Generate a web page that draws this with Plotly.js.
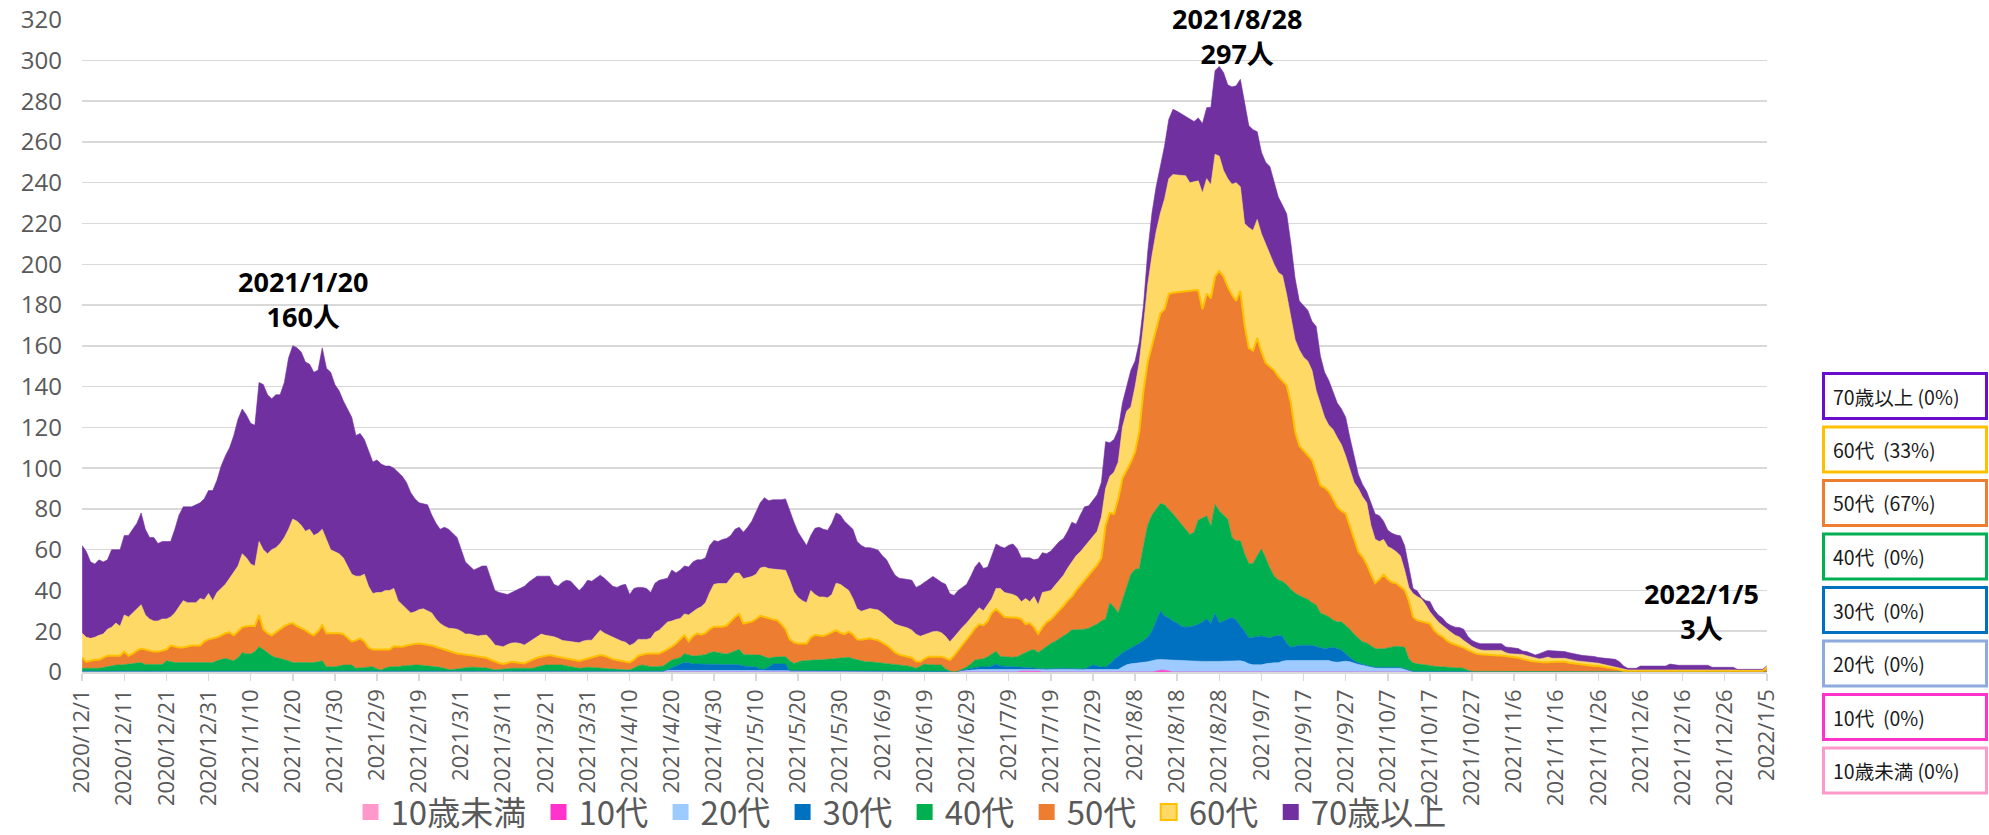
<!DOCTYPE html>
<html><head><meta charset="utf-8">
<script src="https://cdn.plot.ly/plotly-3.0.1.min.js"></script>
<style>html,body{margin:0;padding:0;background:#fff}#chart{width:1989px;height:835px}</style>
</head><body><div id="chart"></div>
<script>
// ---- categories / labels ----
const ageGroups = ['10歳未満','10代','20代','30代','40代','50代','60代','70歳以上'];
const fillColors = ['#FF99CC','#FF33CC','#9DCBFF','#0070C0','#00B050','#ED7D31','#FFD966','#7030A0'];
const boxColors  = ['#FF99CC','#FF33CC','#8FAADC','#0070C0','#00B050','#ED7D31','#FFC000','#6A0DCC'];
const tickLabels = ['2020/12/1','2020/12/11','2020/12/21','2020/12/31','2021/1/10','2021/1/20','2021/1/30','2021/2/9','2021/2/19','2021/3/1','2021/3/11','2021/3/21','2021/3/31','2021/4/10','2021/4/20','2021/4/30','2021/5/10','2021/5/20','2021/5/30','2021/6/9','2021/6/19','2021/6/29','2021/7/9','2021/7/19','2021/7/29','2021/8/8','2021/8/18','2021/8/28','2021/9/7','2021/9/17','2021/9/27','2021/10/7','2021/10/17','2021/10/27','2021/11/6','2021/11/16','2021/11/26','2021/12/6','2021/12/16','2021/12/26','2022/1/5'];
const calloutLabels = ['2021/1/20','2021/8/28','2022/1/5'];
const nDays = 401; // 2020/12/1 .. 2022/1/5

// ---- stacked boundaries (daily, cumulative from the bottom) ----
// top of 70歳以上 (= daily total)
const cum70 = [
62,59,54,53,55,54,55,60,60,60,
67,67,70,73,78,70,66,66,63,64,
64,64,70,77,81,81,81,82,83,85,
89,89,94,101,106,110,116,124,129,126,
122,121,142,141,136,134,136,136,142,154,
160,159,157,152,151,147,148,159,149,147,
141,138,133,129,125,116,117,114,108,103,
104,102,101,101,100,98,96,93,88,85,
83,82.5,82,77,73,70,71,70,68,66,
60,54,52,50,51,52,52,46,40,39,
38.5,38,39,40,41,42,44,45.5,47,47,
47,47,43,42,44,45,44.5,42,40,42,
45,44.5,46,47.5,46,44,42,41.5,42.5,43,
38,41,41.5,41.5,41,39,43.5,45,45.5,46,
50,48.6,50,52,51.5,54,55,55,56,62,
64.5,64,65,65.5,67,70,71,68.6,71,74,
78.5,83,85.5,84,84.5,84.5,84.5,84.9,79,73.5,
68.5,65,62,67,70.5,71,70,69.5,73,78,
77,74,72,70,64,62,61,61,60.5,59.7,
57,55,51,47.5,46,45.8,45.4,45,41.5,42.5,
44,45.5,46.9,45.5,44,43,38.5,37.5,40,41.5,
43,47,51.5,54,50.8,51.5,57.5,62.8,61.5,60.8,
62.2,62.8,60.5,56,56,56,55,55.5,58.5,58,
59.3,61.5,64,65.5,69,73.5,72.5,77,81,81.5,
84,87,93,113,112.5,114,118.8,132,140,148,
152.5,162,180,206,225,238,248,258,271,276,
275,273.8,272.4,271,270,271.8,269,276.8,277,295,
297,294,288,287,287.5,290.7,279,268,266,265,
255,250,248,241,233,229,224.7,210,193,182,
180,177.5,172,169.5,155,147,143,137,132,129,
125,115,106,97,92,88.5,83,77.5,76.7,74,
69.5,68,67.2,66.8,62,52,41,39.7,36.5,35,
34.6,30.5,28,26.5,24,22.8,22,21.8,21,17.5,
15.5,14.5,13.9,13.9,13.9,13.9,13.9,13.9,12.3,12,
12,11.5,10.3,10,9.2,8.3,9,9.8,10.6,10.4,
10.3,10.3,10,9.5,9,8.5,8.2,8,7.9,7.6,
7.1,6.9,6.7,6.4,6.2,5,3,1.8,1.8,1.8,
2.9,2.9,2.9,2.9,2.9,2.9,2.9,3.9,3.5,3.3,
3.3,3.3,3.3,3.3,3.3,3.3,3.3,2.3,2.3,2.3,
2.3,2.3,2.3,1.3,1.3,1.3,1.3,1.3,1.3,1.3,
3];
// top of 60代
const cum60 = [
19,17,16.5,17,18,18.6,21,22,24,22.5,
28,27,29,31,33,28,26,25,25,26,
26,27,29,32,35,34,34,34,36,35.5,
38.5,35,39,41,43,46,49,52,58,56,
53,52,64,60,58,60,61,63,66,70,
75,74,72,69,70,67,68,70,65,60,
59,58,56,52,48,47,47,48,42,38.5,
39,39,40,40,41,35,33,31,29,29.5,
30.6,31,30,29,26,23.8,22.5,21.5,21.3,21,
20,18.6,18.6,18,17.6,18,18.1,16,13.2,12.8,
12.4,13.5,14.2,14.3,14,13.2,14.5,15.6,17,18.6,
18,17.6,17.3,16.5,15.5,15.2,14.8,14.6,14.3,15.2,
15.6,15.6,18,20.5,19,18,16.8,16,15.2,14.6,
13,14,16,16,16,16.5,19.5,20.5,22.5,24.5,
25,25.8,26.2,28.5,28,29.5,31,32,34,39,
43,43.4,43.4,43.4,46,48.5,48.5,45.8,46.3,46.8,
48,51,51.5,50.8,50.5,50.2,50,49.9,45,39.3,
36.5,35,34,40,38,36.8,36.8,36.4,38,43.5,
43,41.7,40,36,31,29.8,30.5,31.1,30.8,30.4,
29,27.1,25,23.5,22.8,22.2,21.6,20.5,18.5,17.5,
18.3,19,19.8,20,19.3,17.5,14.8,17,19.8,22,
24,26.5,29,31.5,30,33,36,41,41,39,
38.5,38,37,34.5,36,34.5,37,33,39,39.4,
40,42.5,45,47.5,51,54,57,59,61.5,64.5,
66.5,69,76,90,96,98,103,120,128,130,
140,152,170,190,204,216,225,232,242,244,
243.8,243.6,243.4,240,240.5,240.9,235,242,239,254,
253,246,242,239.3,240,238,220,218,216.6,222,
215,210,205,200,196,194.5,185,173,163,158,
154.4,152.5,148,138,131,125,121,119,115,111.5,
106,99,93,90,86,83,72,65.1,64,65,
61.5,60.5,59,57,50,41.5,38.5,37,35.8,33,
29.5,27,24.5,22.8,21,19.5,18,17.2,15.5,14,
12.5,11.5,10.8,10.6,10.6,10.6,10.6,10.6,9.5,8.9,
8.8,8.7,8.6,8,7.4,6.8,6.4,6.8,7.3,6.7,
6.7,6.7,6.7,6.3,5.8,5.4,5.2,5,4.8,4.6,
4.3,3.8,3.3,2.9,2.5,1.9,1.2,1,1,1,
1,1,1,1,1,1,1,1,1,1,
1,1,1,1,1,1,1,1,1,1,
1,1,1,1,1,1,1,1,1,1,
3];
// top of 50代
const cum50 = [
7,5,5.5,6,6,7,8,8,8,8,
10,8,9,10.5,11.5,11,10.5,10,10,10.5,
11,13,12.5,12,12,12.5,13,13,13,15,
16,16.5,17,18,19,19.5,18,20,22,22.5,
22.7,22.5,28,21,19,18,19.5,21,22.5,23.5,
24,22.5,21.5,20.5,19,18,20,23,19,19,
19,19,18.6,17,15,15.5,16.5,15,12,11,
11,11,11,11,12.6,12.5,12.4,13,13.5,13.8,
14,13.8,13.4,13,12.3,11.5,10.8,10.2,9.6,9.1,
8.8,8.6,8.3,8,7.6,7.3,7,6,5,4.4,
3.9,4.4,5,4.8,4.5,4.2,5.2,6.2,7,7.5,
8,8.3,7.8,7.4,7.2,6.8,6.3,5.8,5.4,6,
6.6,7,7.6,8.3,8,7,6.3,5.9,5.5,5,
4.7,6,8,8.5,9,9.1,9.1,9.1,10,11,
12.4,14,16,18,15,17.5,18.9,18.3,19.2,21,
22.2,22.2,22.2,22.8,25,27,28.4,23.8,24.3,24.7,
26,27.5,27,26.3,25.8,25.4,23.5,21,16,14.5,
14,14,14,17,18.1,17.9,17.7,18.5,19.5,20.5,
19.2,18.6,19.8,18.5,16,15.8,16.2,16.5,16,15.6,
14.4,13.2,11.5,9.6,8.5,8.1,7.7,7,5.2,5,
6.5,7.5,7.5,7.5,7.5,6.8,5.9,8,10.6,13,
15.7,18.5,21.5,23.5,23,25,29,30.9,29,27,
26.8,26.8,26.6,26,23.5,24,22,18.7,22,24.5,
25.8,28,30,32.5,35,37,40,42.5,44.5,47,
50,52.5,56,72,78,77.6,85,95,99,103,
108,118,138,152,160,168,176,178,185.5,186,
186.3,186.5,186.8,187.2,187.2,187.2,178,185.5,183.4,194,
196.7,194,189,185,182,187,170,159,157.7,163.8,
157,151.6,150,148,145,143,140.5,132,118,111,
108.5,106.5,104,98,91.5,90.5,88.5,85,81,79,
77.8,71.7,65,59,56.5,53,48,43.6,45.5,47.8,
45.5,44,43.5,42,40.3,35,27,25.3,24.7,24.3,
23.8,20.5,18.5,17.4,15.5,14.2,13.4,12.7,12,10.8,
10,9,8.7,8.5,8.3,8.2,8.1,8.1,7.8,7.6,
7.4,7,6.4,5.8,5.4,5.1,4.8,4.8,4.8,5,
5,5,5,4.5,4.2,3.9,3.7,3.4,3.2,3,
2.9,2.6,2.3,2,1.8,1.2,0.6,0.6,0.6,0.6,
0.6,0.6,0.6,0.6,0.6,0.6,0.6,0.6,0.6,0.6,
0.6,0.6,0.6,0.6,0.6,0.6,0.6,0.6,0.6,0.6,
0.6,0.6,0.6,0.6,0.6,0.6,0.6,0.6,0.6,0.6,
2];
// top of 40代
const cum40 = [
1.8,1.8,1.8,1.8,1.8,2.2,2.6,3,3.4,3.4,
3.6,3.8,4,4.3,4.6,3.7,3.7,3.7,3.7,3.7,
5.5,5,4.6,4.6,4.6,4.6,4.6,4.6,4.6,4.6,
4.6,4.6,5.5,6,6.7,6,5.5,7,9.5,9,
8.8,10,12.4,11,9.5,8,7,6.7,6,5.5,
4.6,4.6,4.6,4.6,4.6,4.6,5,5.5,2.6,2.6,
2.6,3,3.4,3.4,3.4,1.8,2,2.2,2.4,2.6,
1.5,1,2,2.6,2.6,2.6,3,3.2,3.4,3.4,
3.4,3.2,2.8,2.6,2.4,2.3,1.8,1.2,1.2,1.5,
1.8,2.1,2.3,2.3,2.3,2.3,2,1.5,1,1.2,
1.5,1.8,1.8,1.8,1.8,1.8,1.8,1.8,2.5,3,
3.4,3.4,3.4,3.4,3.4,3,2.5,2,1.8,2,
2.3,2.2,2,1.8,1.7,1.5,1.4,1.3,1.2,1.1,
1,2,3,3.4,3,2.6,2.6,2.8,2.9,4.5,
5.9,6.5,7,9,8.3,7.8,8,8.2,8.5,9.5,
9.9,9.5,9.2,8.8,9.5,10.5,11.1,8.6,8.4,8.3,
8.3,8.3,7.5,6.7,7.2,7.5,7.5,7.5,5.5,4.2,
5,5.5,5.6,5.8,5.9,6,6.1,6.2,6.4,6.5,
6.8,7,7.2,6.5,6,5.5,5,5,4.8,4.5,
4.2,4.2,3.9,3.6,3.4,3.4,3,2.5,1.8,2.8,
3.9,3.6,3.4,3.4,3.4,1.5,0.5,0,0.4,1.4,
2.5,4,5.9,6.2,6.5,7.5,9,10.2,7.6,7.4,
7.3,7.2,7.5,8.5,9.6,10.5,11,9.6,11,12.6,
14,15,16.5,17.7,19,20.7,20.7,20.8,21,21.5,
22.5,23.5,25,26,34,31.9,28.9,35,42,48,
50.4,50.6,62,72,77,79.6,82.7,82,80,77.5,
75,72.5,70,67.5,68.5,74.6,75.5,76.6,71.5,82.2,
79,77,75,66,64.4,64.4,58,53.2,53.2,57,
60.3,56,51,47.1,45.1,44.5,42.8,40.5,38.7,37.5,
36.5,35.6,34,32.9,29,28,27.1,25.5,24.6,24.6,
23,21,18.5,16.5,14.8,14.2,13,11.5,11.4,11.4,
11.8,12.2,12.6,12.4,12.2,6.5,4.5,4,3.8,3.6,
3.2,2.8,2.6,2.5,2.4,2.2,2.1,2,1.8,0.8,
0.3,0.3,0.3,0.3,0.3,0.3,0.3,0.3,0.3,0.3,
0.2,0.2,0.2,0.2,0.2,0.2,0.2,0.2,0.2,0.2,
0.2,0.2,0.2,0.2,0.2,0.2,0.2,0.2,0.2,0.2,
0.2,0.2,0.2,0.2,0.2,0.2,0,0,0,0,
0,0,0,0,0,0,0,0,0,0,
0,0,0,0,0,0,0,0,0,0,
0,0,0,0,0,0,0,0,0,0,
0];
// top of 30代
const cum30 = [
0.4,0.4,0.4,0.4,0.4,0.4,0.4,0.4,0.4,0.4,
0.4,0.4,0.4,0.4,0.4,0.4,0.4,0.4,0.4,0.4,
0.4,0.4,0.4,0.4,0.4,0.4,0.4,0.4,0.4,0.4,
0.4,0.4,0.4,0.4,0.4,0.4,0.4,0.4,0.4,0.4,
0.4,0.4,0.4,0.4,0.4,0.4,0.4,0.4,0.4,0.4,
0.4,0.4,0.4,0.4,0.4,0.4,0.4,0.4,0.4,0.4,
0.4,0.4,0.4,0.4,0.4,0.4,0.4,0.4,0.4,0.4,
0.4,0.4,0.4,0.4,0.4,0.4,0.4,0.4,0.4,0.4,
0.4,0.4,0.4,0.4,0.4,0.4,0.4,0.4,0.4,0.4,
0.4,0.4,0.4,0.4,0.4,0.4,0.4,0.4,0.4,0.4,
0.4,0.4,0.4,0.4,0.4,0.4,0.4,0.4,0.4,0.4,
0.4,0.4,0.4,0.4,0.4,0.4,0.4,0.4,0.4,0.4,
0.4,0.4,0.4,0.4,0.4,0.4,0.4,0.4,0.4,0.4,
0.4,0.4,0.4,0.4,0.4,0.4,0.4,0.4,0.4,1.2,
2.3,3,3.9,4.6,4.5,3.9,3.9,3.9,3.9,3.6,
3.6,3.6,3.6,3.6,3.6,3.6,3.6,3,2.8,2.6,
2.4,1.5,1.3,2.5,3.9,3.9,3.9,3.9,0.6,0.6,
0.6,0.6,0.6,0.6,0.6,0.6,0.6,0.6,0.6,0.6,
0.6,0.6,0.6,0.6,0.6,0.6,0.6,0.6,0.6,0.6,
0.6,0.6,0.6,0.6,0.6,0.6,0.6,0.6,0.6,0.6,
0.6,0.6,0.6,0.6,0.6,0.6,0.3,0,0.4,0.8,
1.2,1.7,2.2,2.5,2.5,2.5,3,3.9,3,2.9,
2.8,2.7,2.6,2.5,2.5,2.2,2,1.7,1.5,1.5,
1.6,1.8,1.9,1.9,1.8,1.7,1.6,1.5,1.5,2.5,
3.5,3,2.5,2.5,4,6,8,9.5,10.6,12,
13,14,15.5,17,20,25,29.9,27.5,26.5,25,
24,22.5,22,22.3,22.6,23.5,24.5,26.2,23.8,28.9,
24,25,26,26.8,25.5,23,20,16.7,17,17.5,
17.7,17.2,16.7,17.5,18,17.5,14,12.2,12.8,13.1,
13.1,13.1,13.1,12.5,11.8,11.4,11.8,12.2,11.5,10.8,
9,7.3,5.5,4.5,3.8,3.2,2.8,2.3,2.3,2.3,
2.3,2.3,2.3,2.3,1.6,0.8,0.3,0.3,0.3,0.3,
0.3,0.3,0.3,0.3,0.3,0.3,0.3,0.3,0.3,0.3,
0,0,0,0,0,0,0,0,0,0,
0,0,0,0,0,0,0,0,0,0,
0,0,0,0,0,0,0,0,0,0,
0,0,0,0,0,0,0,0,0,0,
0,0,0,0,0,0,0,0,0,0,
0,0,0,0,0,0,0,0,0,0,
0,0,0,0,0,0,0,0,0,0,
0];
// top of 20代
const cum20 = [
0.4,0.4,0.4,0.4,0.4,0.4,0.4,0.4,0.4,0.4,
0.4,0.4,0.4,0.4,0.4,0.4,0.4,0.4,0.4,0.4,
0.4,0.4,0.4,0.4,0.4,0.4,0.4,0.4,0.4,0.4,
0.4,0.4,0.4,0.4,0.4,0.4,0.4,0.4,0.4,0.4,
0.4,0.4,0.4,0.4,0.4,0.4,0.4,0.4,0.4,0.4,
0.4,0.4,0.4,0.4,0.4,0.4,0.4,0.4,0.4,0.4,
0.4,0.4,0.4,0.4,0.4,0.4,0.4,0.4,0.4,0.4,
0.4,0.4,0.4,0.4,0.4,0.4,0.4,0.4,0.4,0.4,
0.4,0.4,0.4,0.4,0.4,0.4,0.4,0.4,0.4,0.4,
0.4,0.4,0.4,0.4,0.4,0.4,0.4,0.4,0.4,0.4,
0.4,0.4,0.4,0.4,0.4,0.4,0.4,0.4,0.4,0.4,
0.4,0.4,0.4,0.4,0.4,0.4,0.4,0.4,0.4,0.4,
0.4,0.4,0.4,0.4,0.4,0.4,0.4,0.4,0.4,0.4,
0.4,0.4,0.4,0.4,0.4,0.4,0.4,0.4,0.4,0.8,
0.8,0.8,0.8,0.8,0.8,0.8,0.8,0.8,0.8,0.8,
0.8,0.8,0.8,0.8,0.8,0.8,0.8,0.8,0.8,0.8,
0.8,0.8,0.8,0.8,0.8,0.8,0.8,0.8,0.5,0.5,
0.5,0.5,0.5,0.5,0.5,0.5,0.5,0.5,0.5,0.5,
0.5,0.5,0.5,0.5,0.5,0.5,0.5,0.5,0.5,0.5,
0.5,0.5,0.5,0.5,0.5,0.5,0.5,0.5,0.5,0.5,
0.5,0.5,0.5,0.5,0.5,0.5,0.3,0,0.4,0.6,
0.8,1,1.2,1.2,1.2,1.2,1.2,1.2,1.2,1.2,
1.2,1.2,1.2,1.2,1.2,1.2,1.2,1.2,1.2,1.2,
1.2,1.2,1.2,1.2,1.2,1.2,1.2,1.2,1.2,1.2,
1.2,1.2,1.2,1.2,1.2,1.2,1.2,2.5,3.5,4,
4.2,4.5,4.5,5,5.5,6,6.1,6,5.8,5.6,
5.5,5.5,5.4,5.4,5.3,5.3,5.2,5.2,5.1,5.1,
5.2,5.3,5.4,5.5,5.5,5.5,5,4,3.5,3.5,
3.5,4,4.3,4.5,4.5,5.3,5.6,5.6,5.6,5.6,
5.6,5.6,5.6,5.6,5.6,5.6,5.6,5,4.8,5,
5.3,5,4.2,3.7,3.3,2.8,2.4,2,1.9,1.9,
1.9,1.9,1.9,1.9,1.4,0.6,0.2,0.2,0.2,0.2,
0.2,0.2,0.2,0.2,0.2,0.2,0.2,0.2,0.2,0.2,
0,0,0,0,0,0,0,0,0,0,
0,0,0,0,0,0,0,0,0,0,
0,0,0,0,0,0,0,0,0,0,
0,0,0,0,0,0,0,0,0,0,
0,0,0,0,0,0,0,0,0,0,
0,0,0,0,0,0,0,0,0,0,
0,0,0,0,0,0,0,0,0,0,
0];
// 10代 (daily values)
const teens = [
0,0,0,0,0,0,0,0,0,0, 0,0,0,0,0,0,0,0,0,0, 0,0,0,0,0,0,0,0,0,0,
0,0,0,0,0,0,0,0,0,0, 0,0,0,0,0,0,0,0,0,0, 0,0,0,0,0,0,0,0,0,0,
0,0,0,0,0,0,0,0,0,0, 0,0,0,0,0,0,0,0,0,0, 0,0,0,0,0,0,0,0,0,0,
0,0,0,0,0,0,0,0,0,0, 0,0,0,0,0,0,0,0,0,0, 0,0,0,0,0,0,0,0,0,0,
0,0,0,0,0,0,0,0,0,0, 0,0,0,0,0,0,0,0,0,0, 0,0,0,0,0,0,0,0,0,0,
0,0,0,0,0,0,0,0,0,0, 0,0,0,0,0,0,0,0,0,0, 0,0,0,0,0,0,0,0,0,0,
0,0,0,0.3,0.3,0.3,0.3,0.3,0,0,
0,0,0,0,0,0,0,0,0,0, 0,0,0,0,0,0,0,0,0,0, 0,0,0,0,0,0,0,0,0,0,
0,0,0,0.4,0.4,0.4,0.4,0.4,0,0,
0,0,0,0,0,0,0,0,0,0, 0,0,0,0,0,0,0,0,0,0,
0,0,0,0,0,0.4,0.9,0.9,0.5,0,
0,0,0,0,0,0,0,0,0,0, 0,0,0,0,0,0,0,0,0,0, 0,0,0,0,0,0,0,0,0,0,
0,0.3,0.3,0.3,0.3,0.3,0.3,0.3,0.3,0.3,
0,0,0,0,0,0,0,0,0,0, 0,0,0,0,0,0,0,0,0,0, 0,0,0,0,0,0,0,0,0,0,
0,0,0,0,0,0,0,0,0,0, 0,0,0,0,0,0,0,0,0,0, 0,0,0,0,0,0,0,0,0,0,
0,0,0,0,0,0,0,0,0,0, 0,0,0,0,0,0,0,0,0,0, 0,0,0,0,0,0,0,0,0,0,
0,0,0,0,0,0,0,0,0,0,
0];
// 10歳未満 (daily values)
const under10 = [
0,0,0,0,0,0,0,0,0,0, 0,0,0,0,0,0,0,0,0,0, 0,0,0,0,0,0,0,0,0,0, 0,0,0,0,0,0,0,0,0,0,
0,0,0,0,0,0,0,0,0,0, 0,0,0,0,0,0,0,0,0,0, 0,0,0,0,0,0,0,0,0,0, 0,0,0,0,0,0,0,0,0,0,
0,0,0,0,0,0,0,0,0,0, 0,0,0,0,0,0,0,0,0,0, 0,0,0,0,0,0,0,0,0,0, 0,0,0,0,0,0,0,0,0,0,
0,0,0,0,0,0,0,0,0,0, 0,0,0,0,0,0,0,0,0,0, 0,0,0,0,0,0,0,0,0,0, 0,0,0,0,0,0,0,0,0,0,
0,0,0,0,0,0,0,0,0,0, 0,0,0,0,0,0,0,0,0,0, 0,0,0,0,0,0,0,0,0,0, 0,0,0,0,0,0,0,0,0,0,
0,0,0,0,0,0,0,0,0,0, 0,0,0,0,0,0,0,0,0,0, 0,0,0,0,0,0,0,0,0,0, 0,0,0,0,0,0,0,0,0,0,
0,0,0,0,0,0,0,0,0,0, 0,0,0,0,0,0,0,0,0,0, 0,0,0,0,0,0,0,0,0,0, 0,0,0,0,0,0,0,0,0,0,
0,0,0,0,0,0,0,0,0,0, 0,0,0,0,0,0,0,0,0,0, 0,0,0,0,0,0,0,0,0,0, 0,0,0,0,0,0,0,0,0,0,
0,0,0,0,0,0,0,0,0,0, 0,0,0,0,0,0,0,0,0,0, 0,0,0,0,0,0,0,0,0,0, 0,0,0,0,0,0,0,0,0,0,
0,0,0,0,0,0,0,0,0,0, 0,0,0,0,0,0,0,0,0,0, 0,0,0,0,0,0,0,0,0,0, 0,0,0,0,0,0,0,0,0,0,
0];

[cum70,cum60,cum50,cum40,cum30,cum20,teens,under10].forEach((a,i)=>{
  if (a.length !== nDays) throw new Error('data array ' + i + ' has length ' + a.length);
});

// ---- x values (dates) ----
const toIso = s => { const p = s.split('/'); return p[0] + '-' + p[1].padStart(2,'0') + '-' + p[2].padStart(2,'0'); };
const dates = [];
for (let i = 0; i < nDays; i++) dates.push(new Date(Date.UTC(2020, 11, 1 + i)).toISOString().slice(0,10));
const tickVals = tickLabels.map(toIso);

// ---- per-group series from the stacked boundaries ----
const r2 = v => Math.round(v * 100) / 100;
const diff = (a, b) => a.map((v, i) => r2(Math.max(0, v - b[i])));
const age20 = cum20.map((v, i) => r2(Math.max(0, v - teens[i] - under10[i])));
const series = [under10, teens, age20, diff(cum30,cum20), diff(cum40,cum30), diff(cum50,cum40), diff(cum60,cum50), diff(cum70,cum60)];

const traces = series.map((ys, k) => ({
  type: 'scatter', mode: 'lines', x: dates, y: ys, name: ageGroups[k],
  stackgroup: 'age', showlegend: false, hoverinfo: 'skip',
  fillcolor: fillColors[k],
  line: { color: k === 5 ? '#FFC000' : fillColors[k], width: k === 5 ? 2 : 0.6, shape: 'linear' }
}));
const legendTraces = ageGroups.map((name, k) => ({
  type: 'scatter', mode: 'markers', x: [null], y: [null], name: name + '\u00a0', showlegend: true, hoverinfo: 'skip',
  marker: { symbol: 'square', size: 16, color: fillColors[k], line: { color: k === 6 ? '#FFC000' : fillColors[k], width: k === 6 ? 2 : 0 } }
}));

// ---- geometry helpers (pixel -> paper) ----
const W = 1989, H = 835, mL = 82, mR = 222, mT = 19, mB = 163;
const plotW = W - mL - mR, plotH = H - mT - mB;
const px2x = px => (px - mL) / plotW;
const py2y = py => (mT + plotH - py) / plotH;

const shapes = [];
const annotations = [];

// right-hand boxes with last-day shares
const lastIdx = nDays - 1;
const lastTotal = cum70[lastIdx];
[7,6,5,4,3,2,1,0].forEach((k, j) => {
  const top = 372 + j * 53.5, bottom = top + 48;
  shapes.push({ type: 'rect', xref: 'paper', yref: 'paper',
    x0: px2x(1823.5), x1: px2x(1986.5), y0: py2y(bottom - 1.5), y1: py2y(top + 1.5),
    line: { color: boxColors[k], width: 3 }, fillcolor: 'rgba(0,0,0,0)' });
  const pct = Math.round(series[k][lastIdx] / lastTotal * 100);
  const gap = ageGroups[k].length >= 4 ? ' ' : '\u00a0\u00a0';
  annotations.push({ xref: 'paper', yref: 'paper', x: px2x(1831), y: py2y(top + 24),
    xanchor: 'left', yanchor: 'middle', showarrow: false,
    text: ageGroups[k] + gap + '(' + pct + '%)',
    font: { family: 'Noto Sans CJK JP, sans-serif', size: 19.5, color: '#1a1a1a' } });
});

// callouts
const calloutStyle = [
  { xanchor: 'center', xshift: 10, yshift: 9 },
  { xanchor: 'center', xshift: 18, yshift: -8 },
  { xanchor: 'right', xshift: -6, yshift: 17 }
];
calloutLabels.forEach((lab, j) => {
  const idx = dates.indexOf(toIso(lab));
  annotations.push({ x: dates[idx], y: cum70[idx], xref: 'x', yref: 'y', showarrow: false,
    xanchor: calloutStyle[j].xanchor, yanchor: 'bottom', xshift: calloutStyle[j].xshift, yshift: calloutStyle[j].yshift,
    align: 'center', text: '<b>' + lab + '<br>' + cum70[idx] + '人</b>',
    font: { family: 'Open Sans, Noto Sans CJK JP, sans-serif', size: 27, color: '#000000' } });
});

const layout = {
  width: W, height: H,
  margin: { l: mL, r: mR, t: mT, b: mB, pad: 0, autoexpand: false },
  paper_bgcolor: '#ffffff', plot_bgcolor: '#ffffff',
  font: { family: 'Noto Sans CJK JP, sans-serif', color: '#595959' },
  showlegend: true,
  legend: { orientation: 'h', x: px2x(905), xanchor: 'center', y: py2y(812), yanchor: 'middle',
    font: { family: 'Noto Sans CJK JP, sans-serif', size: 33, color: '#595959' },
    itemsizing: 'trace', traceorder: 'normal', bgcolor: 'rgba(0,0,0,0)' },
  xaxis: {
    type: 'date', range: ['2020-11-30 23:00', '2022-01-05 01:00'],
    tickmode: 'array', tickvals: tickVals, ticktext: tickLabels, tickangle: -90,
    tickfont: { family: 'Open Sans, sans-serif', size: 22, color: '#595959' },
    showgrid: false, zeroline: false, showline: true, linecolor: '#D9D9D9', linewidth: 1.5,
    ticks: 'outside', ticklen: 7, tickwidth: 1.5, tickcolor: '#D9D9D9',
    automargin: false, fixedrange: true, ticklabeloverflow: 'allow'
  },
  yaxis: {
    range: [0, 320.3], tick0: 0, dtick: 20, showgrid: true, gridcolor: '#D9D9D9', gridwidth: 1.5,
    zeroline: false, showline: false, ticks: '',
    tickfont: { family: 'Open Sans, sans-serif', size: 24, color: '#595959' },
    ticklabelstandoff: 19, automargin: false, fixedrange: true, ticklabeloverflow: 'allow'
  },
  shapes: shapes,
  annotations: annotations
};

Plotly.newPlot('chart', traces.concat(legendTraces), layout, { staticPlot: true, displayModeBar: false });
</script>
</body></html>
